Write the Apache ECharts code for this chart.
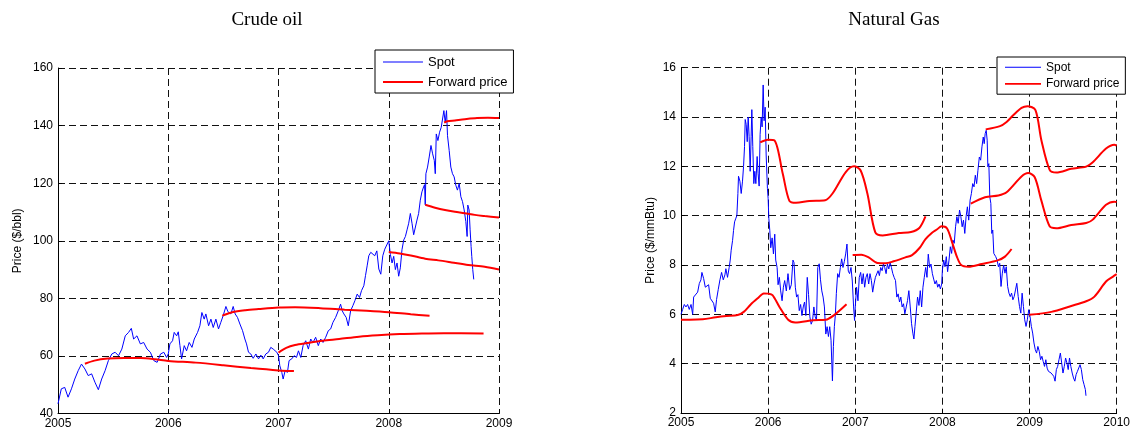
<!DOCTYPE html>
<html><head><meta charset="utf-8">
<script src="https://cdn.jsdelivr.net/npm/echarts@6/dist/echarts.min.js"></script>
<style>html,body{margin:0;padding:0;background:#fff}#c{width:1133px;height:435px}</style>
</head><body><div id="c"></div>
<script>
// ---------- Crude oil ----------
const oilTitle = 'Crude oil';
const oilYName = 'Price ($/bbl)';
const oilSpot = [
[2005.000,43.4],[2005.030,48.6],[2005.061,49.1],[2005.091,45.7],[2005.122,48.6],[2005.152,52.0],[2005.183,54.9],[2005.213,57.2],[2005.244,55.5],[2005.274,53.2],[2005.305,53.8],[2005.335,50.9],[2005.366,48.3],[2005.396,52.0],[2005.427,54.9],[2005.457,58.4],[2005.488,60.7],[2005.518,61.3],[2005.549,60.1],[2005.579,62.4],[2005.610,67.0],[2005.640,68.2],[2005.665,69.6],[2005.686,65.9],[2005.716,67.0],[2005.747,64.2],[2005.777,64.7],[2005.808,62.4],[2005.838,61.3],[2005.869,58.4],[2005.899,57.8],[2005.930,60.7],[2005.960,61.3],[2005.985,59.5],
[2006.000,60.7],[2006.015,64.2],[2006.039,65.3],[2006.054,68.2],[2006.076,67.0],[2006.091,68.4],[2006.106,63.6],[2006.121,59.0],[2006.145,63.6],[2006.166,61.8],[2006.190,64.7],[2006.215,63.0],[2006.236,65.9],[2006.266,68.2],[2006.287,70.5],[2006.305,75.1],[2006.326,72.8],[2006.341,74.6],[2006.366,70.5],[2006.387,72.8],[2006.408,69.9],[2006.432,72.8],[2006.456,69.4],[2006.477,71.7],[2006.498,74.0],[2006.523,77.2],[2006.541,75.4],[2006.568,74.6],[2006.589,77.2],[2006.607,74.6],[2006.628,73.4],[2006.650,71.1],[2006.674,68.8],[2006.695,65.9],[2006.710,64.2],[2006.728,61.3],[2006.749,60.7],[2006.770,59.2],[2006.795,60.7],[2006.819,59.0],[2006.840,60.3],[2006.861,59.0],[2006.885,60.7],[2006.909,61.3],[2006.930,63.0],[2006.952,62.4],[2006.970,63.0],[2006.985,61.3],
[2007.000,60.1],[2007.012,56.6],[2007.030,54.3],[2007.042,52.0],[2007.060,54.9],[2007.081,54.3],[2007.096,58.4],[2007.120,59.0],[2007.142,60.1],[2007.163,59.5],[2007.181,61.8],[2007.202,59.5],[2007.223,63.6],[2007.247,65.3],[2007.271,62.4],[2007.292,65.9],[2007.313,64.7],[2007.337,66.5],[2007.361,63.6],[2007.383,65.9],[2007.404,64.7],[2007.428,66.5],[2007.452,68.8],[2007.473,69.4],[2007.494,71.7],[2007.518,73.4],[2007.542,75.7],[2007.563,78.0],[2007.578,75.7],[2007.593,74.6],[2007.614,73.4],[2007.633,70.5],[2007.654,75.7],[2007.675,77.5],[2007.693,79.2],[2007.714,81.5],[2007.735,80.3],[2007.753,82.7],[2007.774,84.4],[2007.789,87.9],[2007.804,91.3],[2007.819,94.8],[2007.837,96.0],[2007.855,96.5],[2007.873,94.8],[2007.892,96.5],[2007.910,90.2],[2007.928,88.4],[2007.946,94.8],[2007.964,97.1],[2007.982,97.7],
[2008.000,100.0],[2008.015,95.2],[2008.030,92.3],[2008.045,94.6],[2008.060,90.0],[2008.075,92.3],[2008.090,87.7],[2008.105,90.6],[2008.120,96.9],[2008.136,100.3],[2008.151,101.5],[2008.166,103.8],[2008.181,106.1],[2008.196,109.5],[2008.211,106.1],[2008.226,102.1],[2008.241,101.5],[2008.256,107.2],[2008.271,109.5],[2008.286,114.1],[2008.301,117.0],[2008.316,118.7],[2008.325,119.5],[2008.331,112.5],[2008.337,123.3],[2008.352,125.6],[2008.367,129.1],[2008.383,133.1],[2008.398,130.2],[2008.413,127.9],[2008.422,123.3],[2008.431,137.1],[2008.446,134.8],[2008.461,137.7],[2008.476,139.4],[2008.488,138.8],[2008.500,145.2],[2008.512,141.1],[2008.524,145.2],[2008.533,136.5],[2008.548,131.4],[2008.563,125.6],[2008.578,123.3],[2008.593,122.2],[2008.608,119.3],[2008.623,117.6],[2008.639,119.9],[2008.654,115.3],[2008.669,113.6],[2008.684,110.7],[2008.699,106.7],[2008.711,101.5],[2008.717,112.4],[2008.729,110.7],[2008.738,103.8],[2008.747,98.0],[2008.753,94.6],[2008.762,90.0],[2008.771,86.6]
];
const oilFwd1 = [[2005.244,57.3],[2005.33,58.4],[2005.45,59.1],[2005.6,59.3],[2005.75,59.3],[2005.88,58.9],[2006.0,58.3],[2006.25,57.7],[2006.5,56.8],[2006.75,55.8],[2007.0,55.0],[2007.14,54.8]];
const oilFwd2 = [[2006.49,74.0],[2006.58,75.2],[2006.7,75.9],[2006.82,76.3],[2007.0,76.8],[2007.15,76.9],[2007.38,76.6],[2007.6,76.1],[2007.8,75.7],[2008.0,75.2],[2008.2,74.5],[2008.37,74.0]];
const oilFwd3 = [[2007.0,61.2],[2007.07,62.8],[2007.15,63.8],[2007.26,64.5],[2007.4,65.3],[2007.55,65.9],[2007.73,66.7],[2007.9,67.2],[2008.1,67.6],[2008.3,67.8],[2008.5,67.9],[2008.86,67.8]];
const oilFwd4 = [[2008.0,96.1],[2008.1,95.6],[2008.2,94.9],[2008.33,93.8],[2008.45,93.2],[2008.57,92.5],[2008.72,91.6],[2008.87,91.0],[2009.0,90.0]];
const oilFwd5 = [[2008.331,112.5],[2008.42,111.5],[2008.51,110.7],[2008.6,110.1],[2008.69,109.6],[2008.78,109.0],[2008.87,108.6],[2009.0,108.1]];
const oilFwd6 = [[2008.503,141.0],[2008.53,141.5],[2008.6,141.8],[2008.69,142.2],[2008.8,142.6],[2008.9,142.7],[2009.0,142.6]];
const oilXTicks = [2005, 2006, 2007, 2008, 2009];
const oilYTicks = [40, 60, 80, 100, 120, 140, 160];

// ---------- Natural gas ----------
const gasTitle = 'Natural Gas';
const gasYName = 'Price ($/mmBtu)';
const gasSpot = [
[2005.000,6.0],[2005.019,6.2],[2005.038,6.4],[2005.057,6.3],[2005.076,6.4],[2005.095,6.2],[2005.115,6.4],[2005.134,6.0],[2005.145,6.7],[2005.164,6.65],[2005.191,6.9],[2005.210,7.25],[2005.229,7.4],[2005.240,7.7],[2005.260,7.45],[2005.279,7.1],[2005.298,7.05],[2005.317,7.2],[2005.336,6.65],[2005.355,6.6],[2005.374,6.45],[2005.393,6.1],[2005.408,6.6],[2005.427,7.0],[2005.447,7.4],[2005.466,7.7],[2005.485,7.4],[2005.504,7.6],[2005.515,7.85],[2005.534,7.5],[2005.553,7.9],[2005.565,8.2],[2005.576,8.6],[2005.592,9.0],[2005.603,9.4],[2005.615,9.75],[2005.630,9.9],[2005.641,10.0],[2005.653,10.9],[2005.660,11.6],[2005.676,11.4],[2005.691,10.9],[2005.706,11.4],[2005.718,12.0],[2005.729,12.8],[2005.737,13.9],[2005.748,13.7],[2005.760,13.0],[2005.771,14.0],[2005.782,13.2],[2005.794,11.8],[2005.805,13.2],[2005.813,14.3],[2005.824,12.8],[2005.836,11.3],[2005.847,11.8],[2005.859,11.3],[2005.874,12.4],[2005.885,11.7],[2005.897,11.2],[2005.908,13.3],[2005.920,14.0],[2005.931,13.6],[2005.943,15.3],[2005.954,13.85],[2005.966,14.4],[2005.977,12.5],
[2005.992,11.1],[2006.000,10.7],[2006.008,9.9],[2006.019,9.4],[2006.030,8.7],[2006.046,9.1],[2006.061,8.45],[2006.076,9.25],[2006.087,8.2],[2006.103,7.9],[2006.114,7.2],[2006.129,7.5],[2006.144,6.95],[2006.160,6.55],[2006.175,7.1],[2006.190,7.37],[2006.209,6.95],[2006.228,7.65],[2006.247,7.0],[2006.266,7.2],[2006.285,8.2],[2006.297,8.1],[2006.312,7.1],[2006.327,6.7],[2006.342,6.8],[2006.357,6.15],[2006.373,6.4],[2006.388,5.95],[2006.403,6.3],[2006.418,6.5],[2006.433,5.95],[2006.449,7.5],[2006.464,6.8],[2006.479,5.9],[2006.494,5.6],[2006.510,5.75],[2006.525,6.3],[2006.540,5.9],[2006.555,5.75],[2006.570,7.9],[2006.586,8.05],[2006.601,7.4],[2006.616,6.95],[2006.631,6.7],[2006.646,6.3],[2006.662,5.2],[2006.677,5.5],[2006.692,5.1],[2006.707,5.5],[2006.722,4.95],[2006.738,3.3],[2006.749,4.7],[2006.760,5.5],[2006.772,6.0],[2006.783,6.85],[2006.798,7.65],[2006.814,7.5],[2006.829,7.9],[2006.844,8.25],[2006.859,7.9],[2006.875,8.15],[2006.890,8.45],[2006.905,8.85],[2006.920,7.75],[2006.935,7.65],[2006.951,7.9],[2006.966,7.35],[2006.981,6.3],[2006.992,5.75],
[2007.000,6.3],[2007.015,7.1],[2007.031,6.55],[2007.046,7.5],[2007.062,7.7],[2007.077,7.23],[2007.092,7.65],[2007.108,7.1],[2007.123,7.5],[2007.138,7.65],[2007.154,7.23],[2007.169,7.65],[2007.185,7.37],[2007.200,6.9],[2007.215,7.23],[2007.231,7.5],[2007.246,7.43],[2007.262,7.77],[2007.277,7.57],[2007.292,7.9],[2007.308,7.77],[2007.323,8.04],[2007.338,7.9],[2007.354,7.65],[2007.369,8.04],[2007.385,7.84],[2007.400,8.1],[2007.415,7.9],[2007.431,7.65],[2007.446,7.5],[2007.462,7.37],[2007.477,6.7],[2007.492,6.83],[2007.508,6.5],[2007.523,6.7],[2007.538,6.3],[2007.554,6.43],[2007.569,6.02],[2007.585,6.3],[2007.600,6.56],[2007.615,6.96],[2007.631,6.3],[2007.646,5.62],[2007.662,5.21],[2007.673,5.0],[2007.685,5.5],[2007.700,6.1],[2007.715,6.7],[2007.731,6.36],[2007.746,6.96],[2007.762,6.3],[2007.777,7.1],[2007.792,7.5],[2007.808,7.9],[2007.823,7.5],[2007.838,8.44],[2007.854,7.9],[2007.869,8.04],[2007.885,7.65],[2007.900,7.43],[2007.915,7.23],[2007.931,7.37],[2007.946,7.1],[2007.962,7.23],[2007.977,7.03],[2007.992,7.23],
[2008.000,7.8],[2008.015,8.2],[2008.030,7.93],[2008.045,8.34],[2008.060,7.73],[2008.076,8.2],[2008.091,8.74],[2008.106,8.47],[2008.121,9.01],[2008.136,8.88],[2008.151,9.55],[2008.166,9.96],[2008.181,9.69],[2008.197,10.23],[2008.212,9.96],[2008.227,9.55],[2008.242,9.82],[2008.257,9.28],[2008.272,9.96],[2008.287,10.36],[2008.302,9.82],[2008.318,10.63],[2008.333,10.9],[2008.348,11.3],[2008.363,11.17],[2008.378,11.64],[2008.393,11.3],[2008.408,11.84],[2008.424,12.38],[2008.439,12.25],[2008.454,12.79],[2008.469,13.19],[2008.480,12.92],[2008.491,13.33],[2008.503,13.46],[2008.514,13.06],[2008.522,11.98],[2008.533,12.11],[2008.544,10.77],[2008.556,10.5],[2008.567,9.28],[2008.578,9.42],[2008.590,8.47],[2008.601,8.54],[2008.612,8.34],[2008.628,8.2],[2008.643,7.93],[2008.658,8.07],[2008.673,7.13],[2008.688,7.67],[2008.703,8.0],[2008.718,7.67],[2008.733,7.93],[2008.749,7.13],[2008.764,6.86],[2008.779,6.72],[2008.794,6.86],[2008.809,6.59],[2008.824,6.72],[2008.839,6.99],[2008.854,7.26],[2008.870,6.72],[2008.885,6.32],[2008.900,6.05],[2008.915,6.86],[2008.930,6.32],[2008.945,5.78],[2008.960,5.51],[2008.975,5.78],[2008.991,6.19],
[2009.006,5.91],[2009.021,5.51],[2009.036,5.24],[2009.051,4.84],[2009.066,4.57],[2009.081,4.43],[2009.096,4.7],[2009.112,4.5],[2009.127,4.16],[2009.142,4.3],[2009.157,4.09],[2009.172,3.89],[2009.187,4.16],[2009.202,3.82],[2009.217,3.69],[2009.233,3.76],[2009.248,3.62],[2009.263,3.69],[2009.278,3.49],[2009.293,3.29],[2009.308,3.76],[2009.323,3.89],[2009.338,4.16],[2009.354,4.43],[2009.369,4.03],[2009.384,3.62],[2009.399,3.89],[2009.414,4.23],[2009.429,4.03],[2009.444,3.76],[2009.459,4.23],[2009.474,3.89],[2009.490,3.62],[2009.505,3.42],[2009.520,3.29],[2009.535,3.56],[2009.550,3.69],[2009.565,3.76],[2009.580,3.96],[2009.595,3.76],[2009.611,3.35],[2009.626,3.15],[2009.641,2.95],[2009.648,2.7]
];
const gasFwd1 = [[2005.0,5.78],[2005.1,5.78],[2005.25,5.8],[2005.4,5.88],[2005.52,5.93],[2005.65,5.97],[2005.72,6.1],[2005.8,6.4],[2005.88,6.65],[2005.95,6.85],[2006.0,6.84],[2006.05,6.78],[2006.13,6.3],[2006.23,5.78],[2006.31,5.67],[2006.52,5.76],[2006.66,5.78],[2006.75,5.95],[2006.9,6.41]];
const gasFwd2 = [[2005.909,12.97],[2005.997,13.08],[2006.073,13.05],[2006.168,11.7],[2006.244,10.6],[2006.320,10.52],[2006.473,10.6],[2006.655,10.63],[2006.739,10.9],[2006.891,11.77],[2006.986,12.0],[2007.062,11.83],[2007.139,10.9],[2007.230,9.32],[2007.315,9.2],[2007.500,9.3],[2007.640,9.34],[2007.735,9.5],[2007.806,9.97]];
const gasFwd3 = [[2006.97,8.41],[2007.07,8.42],[2007.158,8.3],[2007.255,8.08],[2007.35,8.07],[2007.44,8.15],[2007.576,8.31],[2007.652,8.4],[2007.74,8.7],[2007.804,9.04],[2007.881,9.31],[2007.94,9.45],[2007.99,9.57],[2008.052,9.49],[2008.109,8.95],[2008.166,8.34],[2008.216,8.0],[2008.299,7.93],[2008.451,8.04],[2008.642,8.2],[2008.718,8.34],[2008.794,8.65]];
const gasFwd4 = [[2008.326,10.49],[2008.489,10.75],[2008.642,10.82],[2008.737,10.95],[2008.908,11.59],[2008.984,11.73],[2009.060,11.56],[2009.136,10.61],[2009.231,9.57],[2009.307,9.49],[2009.479,9.62],[2009.650,9.7],[2009.726,9.84],[2009.878,10.44],[2009.973,10.57],[2010.0,10.55]];
const gasFwd5 = [[2008.497,13.5],[2008.661,13.63],[2008.737,13.8],[2008.813,14.07],[2008.908,14.37],[2008.976,14.44],[2009.068,14.28],[2009.136,13.06],[2009.231,11.86],[2009.307,11.75],[2009.479,11.9],[2009.650,11.99],[2009.726,12.17],[2009.878,12.72],[2009.973,12.88],[2010.0,12.84]];
const gasFwd6 = [[2008.995,5.98],[2009.25,6.1],[2009.479,6.34],[2009.650,6.53],[2009.745,6.72],[2009.878,7.33],[2009.954,7.52],[2010.0,7.63]];
const gasXTicks = [2005, 2006, 2007, 2008, 2009, 2010];
const gasYTicks = [2, 4, 6, 8, 10, 12, 14, 16];

const legendNames = ['Spot', 'Forward price'];

// ---------- build ----------
const SANS = 'Liberation Sans, Arial, sans-serif';
const SERIF = 'Liberation Serif, Times New Roman, serif';
const spotIcon = 'path://M0,6.5H40V7.5H0Z M0,0H0.01V0.01H0Z M0,14H0.01V14.01H0Z';
const fwdIcon = 'path://M0,6H40V8H0Z M0,0H0.01V0.01H0Z M0,14H0.01V14.01H0Z';

function xAxis(gi, ticks) {
  return {
    type: 'value', gridIndex: gi, min: ticks[0], max: ticks[ticks.length - 1], interval: 1,
    axisLine: { show: true, onZero: false, lineStyle: { color: '#000', width: 1 } },
    axisTick: { show: true, inside: true, length: 4, lineStyle: { color: '#000' } },
    axisLabel: { color: '#000', fontFamily: SANS, fontSize: 12, margin: 4, formatter: v => String(Math.round(v)) },
    splitLine: { show: true, lineStyle: { color: '#111', type: [7, 4], width: 1 } }
  };
}
function yAxis(gi, ticks, name, gap) {
  return {
    type: 'value', gridIndex: gi, min: ticks[0], max: ticks[ticks.length - 1], interval: ticks[1] - ticks[0],
    name: name, nameLocation: 'middle', nameGap: gap,
    nameTextStyle: { color: '#000', fontFamily: SANS, fontSize: 12 },
    axisLine: { show: true, lineStyle: { color: '#000', width: 1 } },
    axisTick: { show: true, inside: true, length: 4, lineStyle: { color: '#000' } },
    axisLabel: { color: '#000', fontFamily: SANS, fontSize: 12, margin: 5 },
    splitLine: { show: true, lineStyle: { color: '#111', type: [7, 4], width: 1 } }
  };
}
function spot(data, i) {
  return { type: 'line', name: legendNames[0], xAxisIndex: i, yAxisIndex: i, data: data, symbol: 'none',
    showSymbol: false, lineStyle: { color: '#0000ff', width: 1 }, itemStyle: { color: '#0000ff' }, z: 2, animation: false };
}
function fwd(data, i) {
  return { type: 'line', name: legendNames[1], xAxisIndex: i, yAxisIndex: i, data: data, symbol: 'none',
    showSymbol: false, smooth: 0.3, lineStyle: { color: '#ff0000', width: 2 }, itemStyle: { color: '#ff0000' }, z: 3, animation: false };
}
function legend(left, top, pad, iw, gap, fs) {
  return {
    left: left, top: top, orient: 'vertical', padding: pad, itemWidth: iw, itemHeight: 14, itemGap: gap,
    borderColor: '#000', borderWidth: 1, borderRadius: 0, backgroundColor: '#fff', selectedMode: false,
    textStyle: { color: '#000', fontFamily: SANS, fontSize: fs },
    data: [{ name: legendNames[0], icon: spotIcon }, { name: legendNames[1], icon: fwdIcon }]
  };
}

const chart = echarts.init(document.getElementById('c'), null, { renderer: 'canvas' });
chart.setOption({
  animation: false,
  backgroundColor: '#fff',
  grid: [
    { left: 58, top: 68, width: 441, height: 345.6 },
    { left: 681, top: 67.7, width: 438, height: 345.3 }
  ],
  xAxis: [xAxis(0, oilXTicks), xAxis(1, gasXTicks)],
  yAxis: [yAxis(0, oilYTicks, oilYName, 34), yAxis(1, gasYTicks, gasYName, 24)],
  legend: [legend(375, 50, [5, 6, 4, 8], 40, 6, 13), legend(997, 57, [4, 6, 4, 8], 36, 4, 12)],
  graphic: [
    { type: 'text', x: 267, y: 20, style: { text: oilTitle, align: 'center', verticalAlign: 'middle', fontFamily: SERIF, fontSize: 19, fill: '#000' } },
    { type: 'text', x: 894, y: 20, style: { text: gasTitle, align: 'center', verticalAlign: 'middle', fontFamily: SERIF, fontSize: 19, fill: '#000' } }
  ],
  series: [
    spot(oilSpot, 0), fwd(oilFwd1, 0), fwd(oilFwd2, 0), fwd(oilFwd3, 0), fwd(oilFwd4, 0), fwd(oilFwd5, 0), fwd(oilFwd6, 0),
    spot(gasSpot, 1), fwd(gasFwd1, 1), fwd(gasFwd2, 1), fwd(gasFwd3, 1), fwd(gasFwd4, 1), fwd(gasFwd5, 1), fwd(gasFwd6, 1)
  ]
});
</script>
</body></html>
